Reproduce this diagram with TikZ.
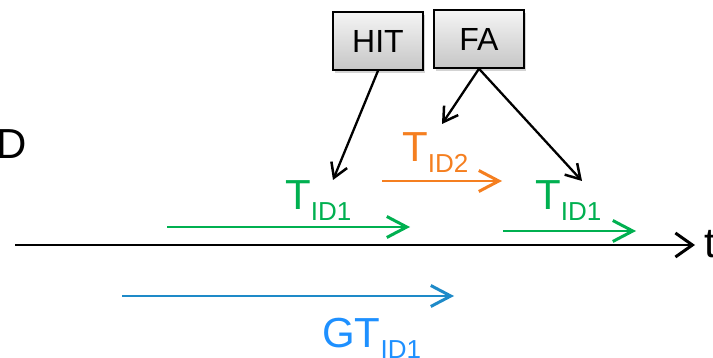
\documentclass[tikz,border=0pt]{standalone}
\usepackage{fontspec}
\setmainfont{Liberation Sans}
\usetikzlibrary{arrows.meta,shadows}
\definecolor{tgreen}{RGB}{0,176,80}
\definecolor{torange}{RGB}{245,127,32}
\definecolor{tblue}{RGB}{30,138,200}
\definecolor{gtblue}{RGB}{30,144,255}
\newcommand{\bigfont}{\fontsize{42}{42}\selectfont}
\newcommand{\subfont}{\fontsize{26}{26}\selectfont}
\newcommand{\sublab}[2]{#1\raisebox{-11pt}{\subfont #2}}
\tikzset{
  lab/.style={anchor=base west,inner sep=0pt,font=\bigfont},
  evbox/.style={draw=black,line width=1.5pt,minimum width=90pt,minimum height=58pt,
    top color=gray!8,bottom color=gray!45,inner sep=0pt,
    font=\fontsize{32}{32}\selectfont,
    drop shadow={shadow xshift=2pt,shadow yshift=-3pt,opacity=0.35}},
  seg/.style={line width=2.8pt,-{Straight Barb[length=20pt,width=21pt,line width=3pt]}},
  ptr/.style={line width=2.3pt,black,-{Straight Barb[length=14pt,width=17pt,line width=2.5pt]}}
}
\begin{document}
\begin{tikzpicture}[x=1pt,y=-1pt]
\useasboundingbox (0,0) rectangle (713,358);
% labels
\node[lab] (d) at (-4,159) {D};
\node[lab] (t) at (704,258) {t};
% axis
\coordinate (axs) at (15,245);
\coordinate (axe) at (695,245);
\draw[line width=2.8pt,-{Straight Barb[length=17pt,width=24pt,line width=3pt]}] (axs) -- (axe);
% boxes
\node[evbox] (hit) at (378,41) {HIT};
\node[evbox] (fa) at (479,39) {FA};
% track segments
\coordinate (g1s) at (167,227); \coordinate (g1e) at (410,227);
\coordinate (o1s) at (382,181); \coordinate (o1e) at (502,181);
\coordinate (g2s) at (503,231); \coordinate (g2e) at (636,231);
\coordinate (bs) at (122,296); \coordinate (be) at (454,296);
\draw[seg,tgreen] (g1s) -- (g1e);
\draw[seg,torange] (o1s) -- (o1e);
\draw[seg,tgreen] (g2s) -- (g2e);
\draw[seg,tblue] (bs) -- (be);
% text labels
\node[lab,text=tgreen] (tl1) at (285,210) {\sublab{T}{ID1}};
\node[lab,text=torange] (tl2) at (402,162) {\sublab{T}{ID2}};
\node[lab,text=tgreen] (tl3) at (535,210) {\sublab{T}{ID1}};
\node[lab,text=gtblue] (gtl) at (322,348) {\sublab{GT}{ID1}};
% pointers
\coordinate (p1) at (333,180);
\coordinate (p2) at (442,124);
\coordinate (p3) at (582,181);
\draw[ptr] (hit.south) -- (p1);
\draw[ptr] (fa.south) -- (p2);
\draw[ptr] (fa.south) -- (p3);
\end{tikzpicture}
\end{document}
